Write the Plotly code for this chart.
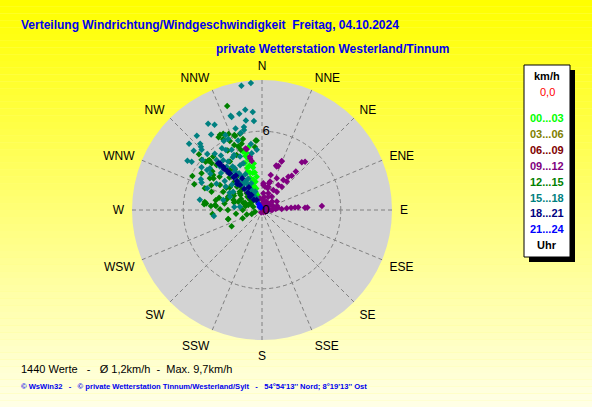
import plotly.graph_objects as go

# wind direction (deg) and speed (km/h), grouped by time of day
dir_00_03 = [347.7, 342, 340, 346.5, 351, 335.6, 343, 345, 341, 344, 348, 342, 346, 349, 340,
             344, 347, 338, 342, 345, 336, 340, 343, 338, 345, 350, 339]
spd_00_03 = [4.9, 4.67, 3.8, 3.92, 2.57, 0.98, 4.3, 4.0, 3.4, 3.5, 3.3, 3.0, 2.9, 2.9, 2.6,
             2.4, 2.2, 2.0, 1.9, 1.7, 1.5, 1.4, 1.2, 0.8, 4.5, 3.6, 3.1]

dir_03_06 = [10, 30]
spd_03_06 = [0.2, 0.1]

dir_06_09 = [20, 50]
spd_06_09 = [0.1, 0.2]

dir_09_12 = [345, 345.8, 347, 21.9, 17.7, 20.3, 39.8, 41.7, 41.3, 41.1, 41.1, 40.2, 38.8, 36, 29.5,
             14, 24.9, 14.7, 14.7, 4.6, 350, 86, 87, 86, 85.5, 85.5, 85.5, 87, 87, 86.2,
             3, 15, 15.8, 18.7, 22, 20.7, 29.5, 33, 35.4, 38.3, 347.3, 348.1, 2.9, 7.3,
             40, 60, 80, 20, 0, 100, 120, 70, 50, 10, 90, 30, 150, 200, 350, 60, 75, 5, 25,
             82, 88, 45, 55, 65]
spd_09_12 = [4.84, 4.78, 4.05, 4.03, 3.56, 3.58, 4.74, 4.93, 3.9, 3.45, 2.87, 2.33, 1.79, 1.26, 0.73,
             2.75, 2.67, 2.1, 1.71, 1.28, 0.9, 1.05, 1.5, 1.89, 2.22, 2.52, 2.77, 3.28, 3.46, 4.57,
             1.9, 1.84, 2.25, 3.49, 3.98, 1.36, 1.75, 2.27, 2.8, 3.23, 4.17, 3.82, 2.04, 1.79,
             0.5, 0.6, 0.5, 0.6, 0.5, 0.4, 0.3, 0.9, 1.0, 1.0, 0.7, 0.4, 0.2, 0.2, 0.4, 1.3, 1.2, 0.8, 1.1,
             1.2, 0.8, 0.3, 0.7, 0.4]

dir_12_15 = [341.5, 333, 336.3, 329.2, 339.7, 354.8, 342.9, 330.8, 331.3, 340, 343.9, 336.9, 339.5,
             340.5, 355.6, 353.6, 311.5, 313.5, 312.9, 314.8, 301.3, 301.4, 305.7, 290.8, 290,
             300.8, 295.3, 278, 276.6, 276, 265.4, 254.6, 242, 254, 291.5, 289.2, 289.3, 290.4,
             290, 290.8, 321.3, 322.8, 325, 329, 317.5, 307.2, 256, 248.8, 270, 317.6, 330, 335.3,
             326.5, 309.7, 310.6, 312.4, 290.8, 275.6, 274.5, 275, 255,
             300, 305, 310, 315, 318, 312, 298, 285, 280, 283, 300, 320, 326, 308, 296, 286, 270,
             262, 247, 335, 345, 296,
             305, 310, 313, 316, 302, 297, 293, 287, 308, 303, 318, 322, 315, 282, 271]
spd_12_15 = [8.35, 6.51, 6.33, 6.46, 6.08, 5.31, 5.27, 6.56, 6.15, 6.0, 6.04, 5.39, 5.16,
             4.86, 5.3, 4.82, 6.41, 5.54, 5.24, 4.87, 5.39, 4.65, 4.58, 4.66, 4.09,
             3.73, 3.27, 4.4, 4.28, 3.6, 3.78, 2.67, 2.62, 1.21, 2.77, 2.3, 1.91, 1.52,
             1.11, 0.71, 3.91, 3.19, 2.49, 1.78, 1.72, 2.11, 0.55, 0.84, 1.47, 5.51, 5.23, 4.62,
             4.43, 5.98, 5.66, 5.56, 5.52, 4.43, 3.9, 3.52, 2.66,
             2.5, 3.0, 2.2, 3.5, 4.4, 1.5, 1.8, 2.2, 2.9, 1.3, 1.0, 1.1, 3.7, 4.1, 4.3, 3.4, 2.6,
             2.0, 1.6, 5.8, 5.6, 5.9,
             2.0, 1.2, 2.6, 3.0, 3.2, 2.4, 1.4, 2.8, 4.8, 4.4, 2.2, 1.5, 1.0, 3.6, 3.2]

dir_15_18 = [355, 350.6, 341.6, 346.7, 350.5, 354.6, 354.8, 328, 330.9, 342, 347.7, 344.5, 326,
             318.7, 312.2, 350.5, 317, 316, 315, 341.9, 349.8, 347.3, 311, 315.7, 310, 305.3,
             306, 296.7, 294.4, 291.6, 263, 334, 334.5, 333.2, 329, 317.8, 315.9, 320.8, 324.8,
             325.9, 327.7, 330, 337.6, 338.2, 349.7, 355, 302.5, 292.6, 284.5, 276, 278.5,
             322, 326, 328, 330, 332, 318, 320, 323, 335, 338, 312, 308, 316, 340, 335, 329,
             305, 300, 310, 333, 341, 331, 320, 303, 298, 304.5, 303.4, 279.3, 308.7,
             325, 327, 329, 331, 324, 321, 319, 317, 323, 327, 331, 334, 336, 332, 326]
spd_15_18 = [9.7, 9.6, 7.56, 7.53, 7.74, 7.49, 6.8, 7.74, 7.43, 6.52, 6.46, 6.08, 6.93,
             7.52, 7.5, 5.1, 6.9, 6.7, 6.5, 7.45, 6.93, 6.24, 6.89, 5.97, 5.92, 5.64,
             5.17, 5.21, 5.05, 4.49, 3.69, 6.35, 5.98, 5.13, 5.34, 5.15, 4.6, 4.26, 3.58,
             2.77, 1.96, 1.32, 4.4, 3.84, 4.4, 4.6, 2.6, 2.64, 3.05, 2.12, 1.7,
             4.8, 4.0, 3.3, 2.5, 1.8, 3.9, 3.2, 2.4, 3.0, 2.2, 4.2, 3.6, 2.8, 1.5, 1.0, 0.7,
             4.8, 4.0, 3.0, 4.7, 5.6, 6.0, 5.6, 3.3, 2.8, 6.5, 6.8, 4.8, 5.08,
             4.5, 3.8, 3.0, 2.2, 2.0, 2.8, 3.6, 4.4, 5.2, 5.6, 4.6, 3.8, 2.6, 1.4, 1.2]

dir_18_21 = [316.9, 318, 318, 318.5, 318.9, 319, 318.7, 319, 320, 321, 325, 328, 332, 322, 330,
             323, 317.4, 317, 318.3, 316.5, 318]
spd_18_21 = [4.88, 4.8, 4.4, 4.0, 3.72, 3.3, 2.54, 2.9, 2.1, 1.7, 1.39, 2.85, 0.86, 1.0, 2.0,
             3.3, 4.25, 4.7, 3.75, 2.73, 1.37]

dir_21_24 = [320, 330, 340]
spd_21_24 = [0.3, 0.5, 0.2]

groups = ["00...03", "03...06", "06...09", "09...12", "12...15", "15...18", "18...21", "21...24"]
group_colors = ["#00ff00", "#808000", "#800000", "#800080", "#008000", "#008080", "#000080", "#0000ff"]
group_dirs = [dir_00_03, dir_03_06, dir_06_09, dir_09_12, dir_12_15, dir_15_18, dir_18_21, dir_21_24]
group_spds = [spd_00_03, spd_03_06, spd_06_09, spd_09_12, spd_12_15, spd_15_18, spd_18_21, spd_21_24]

compass = ["N", "NNE", "NE", "ENE", "E", "ESE", "SE", "SSE",
           "S", "SSW", "SW", "WSW", "W", "WNW", "NW", "NNW"]

W, H = 592, 407
FONT = "Liberation Sans"

fig = go.Figure()

for name, col, d, s in zip(groups, group_colors, group_dirs, group_spds):
    fig.add_trace(go.Scatterpolar(
        theta=d, r=s, mode="markers", name=name,
        marker=dict(symbol="diamond", size=5, color=col, line=dict(width=0)),
        hoverinfo="skip"
    ))

# yellow gradient background built from thin bands
shapes = []
nb = 60
for i in range(nb):
    b = int(round(230 * i / (nb - 1)))
    shapes.append(dict(type="rect", xref="paper", yref="paper",
                       x0=0, x1=1, y0=1 - (i + 1) / nb, y1=1 - i / nb,
                       fillcolor=f"rgb(255,255,{b})", line=dict(width=0), layer="below"))

def px(x):
    return x / W

def py(y):
    return 1 - y / H

# legend box with shadow
shapes.append(dict(type="rect", xref="paper", yref="paper", x0=px(529), x1=px(575),
                   y0=py(262), y1=py(70), fillcolor="black", line=dict(width=0)))
shapes.append(dict(type="rect", xref="paper", yref="paper", x0=px(524), x1=px(570),
                   y0=py(257), y1=py(65), fillcolor="white", line=dict(color="black", width=1)))

ann = []
def text(x, y, t, size, color, bold=False, anchor="left", family=FONT):
    ann.append(dict(x=px(x), y=py(y), xref="paper", yref="paper", showarrow=False,
                    text=f"<b>{t}</b>" if bold else t, xanchor=anchor, yanchor="middle",
                    font=dict(family=family, size=size, color=color)))

text(19, 25, "Verteilung Windrichtung/Windgeschwindigkeit  Freitag, 04.10.2024", 12, "#0000ee", True)
text(214, 49, "private Wetterstation Westerland/Tinnum", 12, "#0000ee", True)

text(547, 76, "km/h", 11, "black", True, "center")
text(547, 92, "0,0", 11, "#ff0000", False, "center")
ly = 118
for name, col in zip(groups, group_colors):
    text(547, ly, name, 11, col, True, "center")
    ly += 15.9
text(547, 245, "Uhr", 11, "black", True, "center")

text(19, 369, "1440 Werte   -   \u00d8 1,2km/h  -  Max. 9,7km/h", 11, "black")
text(19, 386, "\u00a9 WsWin32   -   \u00a9 private Wetterstation Tinnum/Westerland/Sylt   -   "
     "54\u00b054'13'' Nord; 8\u00b019'13'' Ost", 7.6, "#0000ee", True)

cx, cy, rad = 262, 210, 130
fig.update_layout(
    width=W, height=H,
    margin=dict(l=0, r=0, t=0, b=0),
    paper_bgcolor="#ffff80",
    showlegend=False,
    shapes=shapes,
    annotations=ann,
    polar=dict(
        domain=dict(x=[(cx - rad) / W, (cx + rad) / W], y=[1 - (cy + rad) / H, 1 - (cy - rad) / H]),
        bgcolor="#d3d3d3",
        angularaxis=dict(
            direction="clockwise", rotation=90,
            tickmode="array", tickvals=[i * 22.5 for i in range(16)], ticktext=compass,
            ticks="outside", ticklen=5, tickcolor="rgba(0,0,0,0)", showline=False,
            gridcolor="#808080", gridwidth=1, griddash="4px,3px",
            tickfont=dict(family=FONT, size=12, color="black"),
        ),
        radialaxis=dict(
            range=[0, 9.9], angle=90, side="clockwise", tickangle=90,
            tickmode="array", tickvals=[0, 6], ticktext=["0", "6"],
            ticks="", showline=False,
            gridcolor="#808080", gridwidth=1, griddash="4px,3px",
            tickfont=dict(family=FONT, size=13, color="black"),
        ),
    ),
)

fig.write_html("out.html", config={"displayModeBar": False},
               post_script="document.body.style.margin='0';document.body.style.overflow='hidden';")
